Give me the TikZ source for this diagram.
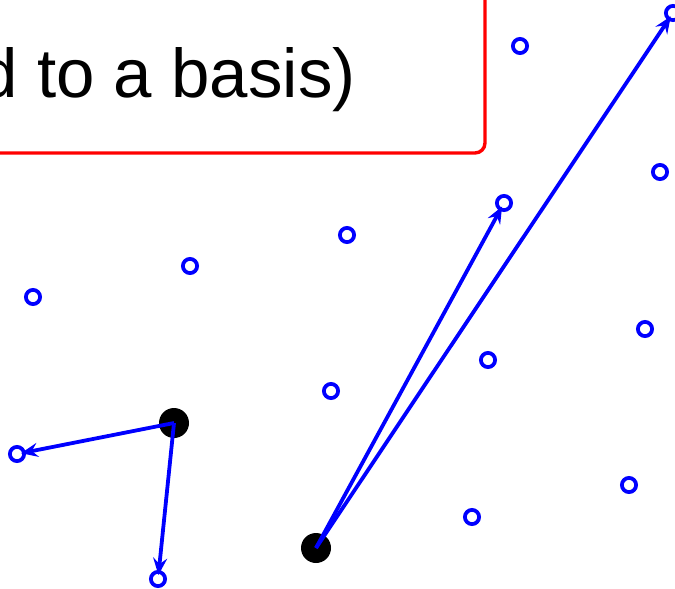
\documentclass[tikz,border=0pt]{standalone}
\usepackage{fontspec}
\setmainfont{Liberation Sans}
\usetikzlibrary{arrows.meta}
\begin{document}
\begin{tikzpicture}[x=0.5pt,y=-0.5pt,
  lat/.style={circle,draw=blue,line width=1.9pt,fill=white,minimum size=7.1pt,inner sep=0pt},
  origin/.style={circle,fill=black,minimum size=15pt,inner sep=0pt},
  vec/.style={draw=blue,line width=1.9pt,-{Stealth[length=8.5pt,width=7pt,inset=3pt]},shorten >=2pt},
  titlebox/.style={draw=red,line width=1.7pt,fill=white,rounded corners=5pt}]
\useasboundingbox (0,0) rectangle (675,589);
\clip (0,0) rectangle (675,589);
% lattice points
\node[lat] (p1) at (520,46) {};
\node[lat] (p2) at (673,13) {};
\node[lat] (p3) at (660,172) {};
\node[lat] (p4) at (504,203) {};
\node[lat] (p5) at (347,235) {};
\node[lat] (p6) at (190,266) {};
\node[lat] (p7) at (33,297) {};
\node[lat] (p8) at (645,329) {};
\node[lat] (p9) at (488,360) {};
\node[lat] (p10) at (331,391) {};
\node[lat] (p11) at (17,454) {};
\node[lat] (p12) at (629,485) {};
\node[lat] (p13) at (472,517) {};
\node[lat] (p14) at (158,579) {};
% origins
\node[origin] (o1) at (174,423) {};
\node[origin] (o2) at (316,548) {};
% basis vectors
\draw[vec] (o1.center) -- (p11.center);
\draw[vec] (o1.center) -- (p14.center);
\draw[vec] (o2.center) -- (p4.center);
\draw[vec] (o2.center) -- (p2.center);
% title box
\draw[titlebox] (-40,-40) rectangle (485,153);
\node[anchor=base east,inner sep=0pt,font=\fontsize{34.5}{40}\selectfont] (title) at (356,97) {d to a basis)};
\end{tikzpicture}
\end{document}
